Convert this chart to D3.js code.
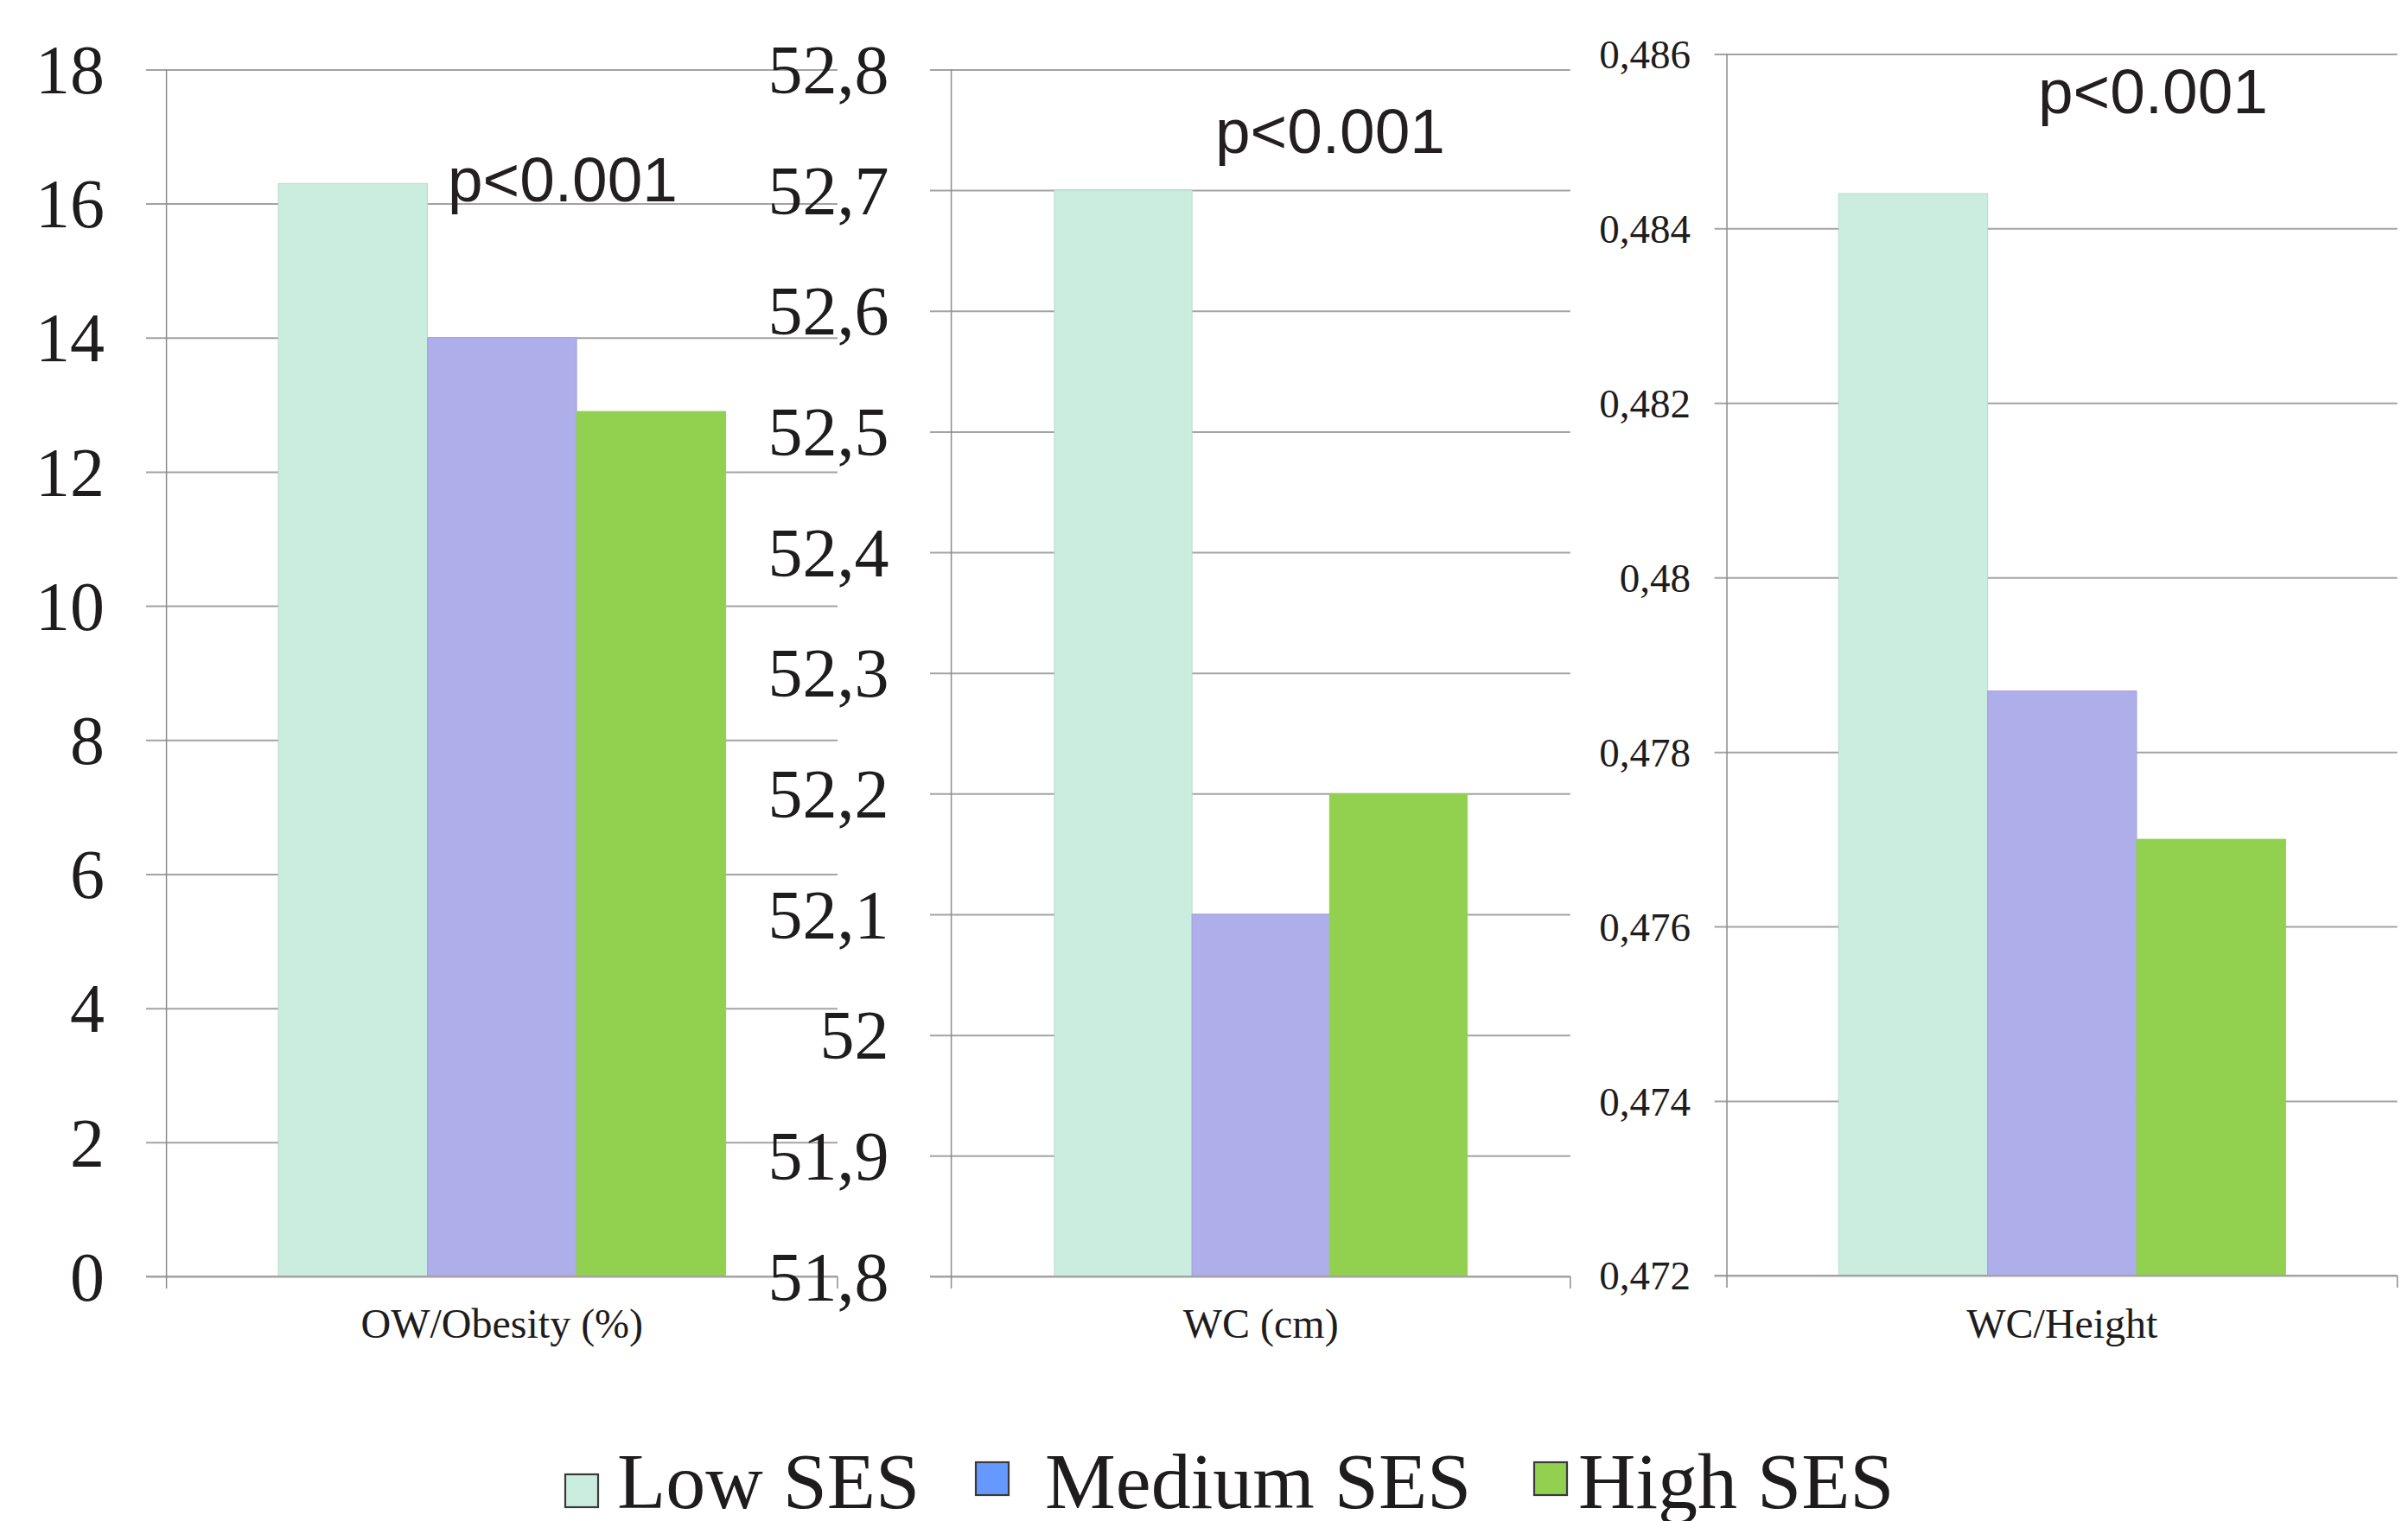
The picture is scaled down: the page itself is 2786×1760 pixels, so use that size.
<!DOCTYPE html>
<html>
<head>
<meta charset="utf-8">
<script src="https://cdn.jsdelivr.net/npm/d3@7"></script>
<style>
  html, body { margin: 0; padding: 0; background: #ffffff; }
  svg { display: block; }
</style>
</head>
<body>
<svg id="chart" width="2786" height="1760"></svg>
<script>
// ---- Data ----
const categories = ["OW/Obesity (%)", "WC (cm)", "WC/Height"];
const seriesNames = ["Low SES", "Medium SES", "High SES"];
const lowSES = [16.3, 52.7, 0.4844];
const mediumSES = [14.0, 52.1, 0.4787];
const highSES = [12.9, 52.2, 0.4770];
const pValueLabels = ["p<0.001", "p<0.001", "p<0.001"];

// Axis domains and tick values for each panel
const domainOW = [0, 18];
const domainWC = [51.8, 52.8];
const domainRatio = [0.472, 0.486];
const ticksOW = [0, 2, 4, 6, 8, 10, 12, 14, 16, 18];
const ticksWC = [51.8, 51.9, 52.0, 52.1, 52.2, 52.3, 52.4, 52.5, 52.6, 52.7, 52.8];
const ticksRatio = [0.472, 0.474, 0.476, 0.478, 0.480, 0.482, 0.484, 0.486];

// ---- Styling ----
const barColors = ["#cbede0", "#aeaeea", "#92d050"];
const barStrokes = ["#b4dccb", "#a3a3de", "#92d050"];
const legendColors = ["#cbede0", "#6699ff", "#92d050"];
const gridColor = "#a3a3a3";
const textColor = "#1e1c1d";
const serif = "'Liberation Serif', 'Times New Roman', serif";
const sans = "'Liberation Sans', Arial, sans-serif";

// Decimal comma formatting, trailing zeros trimmed (52 / 52,1 / 0,48)
const locale = d3.formatLocale({ decimal: ",", thousands: ".", grouping: [3], currency: ["", ""] });

const panelDomains = [domainOW, domainWC, domainRatio];
const panelTicks = [ticksOW, ticksWC, ticksRatio];
const panelFormats = [locale.format("~f"), locale.format(".1~f"), locale.format(".3~f")];

// Panel geometry (plot boxes, label sizes, annotation spots)
const layout = [
  { x0: 192.6, x1: 969.0, yBottom: 1477, yTop: 80.4, tickLen: 23.6, pad: 48, tickFont: 80, pX: 518, pY: 233 },
  { x0: 1100.6, x1: 1816.8, yBottom: 1477, yTop: 80.4, tickLen: 24.6, pad: 47.4, tickFont: 80, pX: 1406, pY: 177 },
  { x0: 1998.0, x1: 2773.6, yBottom: 1476, yTop: 62.4, tickLen: 14.4, pad: 27.6, tickFont: 47, pX: 2358, pY: 131 }
];

const svg = d3.select("#chart");
svg.append("rect").attr("width", 2786).attr("height", 1760).attr("fill", "#ffffff");

const values = categories.map((c, i) => [lowSES[i], mediumSES[i], highSES[i]]);

categories.forEach((cat, i) => {
  const L = layout[i];
  const g = svg.append("g");

  const y = d3.scaleLinear().domain(panelDomains[i]).range([L.yBottom, L.yTop]);
  const x = d3.scaleBand().domain([cat]).range([L.x0, L.x1]).paddingInner(0).paddingOuter(0.25);
  const xs = d3.scaleBand().domain(seriesNames).range([0, x.bandwidth()]).padding(0);

  // Gridlines + tick labels: axis anchored on the right edge, ticks running left past the plot
  const yAxis = d3.axisLeft(y)
    .tickValues(panelTicks[i])
    .tickFormat(panelFormats[i])
    .tickSize(L.x1 - L.x0 + L.tickLen)
    .tickPadding(L.pad);

  const ax = g.append("g")
    .attr("transform", `translate(${L.x1},0)`)
    .call(yAxis);
  ax.select(".domain").remove();
  ax.selectAll(".tick line").attr("stroke", gridColor).attr("stroke-width", 2);
  ax.selectAll(".tick text")
    .attr("fill", textColor)
    .attr("font-family", serif)
    .attr("font-size", L.tickFont)
    .attr("dy", "0.34em");

  // Bars
  g.append("g")
    .selectAll("rect")
    .data(values[i].map((v, k) => ({ key: seriesNames[k], v, k })))
    .join("rect")
    .attr("x", d => x(cat) + xs(d.key))
    .attr("y", d => y(d.v))
    .attr("width", xs.bandwidth())
    .attr("height", d => y(panelDomains[i][0]) - y(d.v))
    .attr("fill", d => barColors[d.k])
    .attr("stroke", d => barStrokes[d.k])
    .attr("stroke-width", 1);

  // Baseline redrawn over bars
  g.append("line")
    .attr("x1", L.x0 - L.tickLen).attr("x2", L.x1)
    .attr("y1", y(panelDomains[i][0])).attr("y2", y(panelDomains[i][0]))
    .attr("stroke", gridColor).attr("stroke-width", 2);

  // Vertical axis line and category boundary ticks
  const r = x.range();
  g.append("line")
    .attr("x1", r[0]).attr("x2", r[0])
    .attr("y1", y(panelDomains[i][1])).attr("y2", y(panelDomains[i][0]) + 14)
    .attr("stroke", "#8c8c8c").attr("stroke-width", 1.5);
  g.append("line")
    .attr("x1", r[1]).attr("x2", r[1])
    .attr("y1", y(panelDomains[i][0])).attr("y2", y(panelDomains[i][0]) + 14)
    .attr("stroke", "#8c8c8c").attr("stroke-width", 1.5);

  // Category label
  g.append("text")
    .attr("x", x(cat) + x.bandwidth() / 2)
    .attr("y", 1548)
    .attr("text-anchor", "middle")
    .attr("fill", textColor)
    .attr("font-family", serif)
    .attr("font-size", 48)
    .text(cat);

  // Significance annotation
  g.append("text")
    .attr("x", L.pX)
    .attr("y", L.pY)
    .attr("fill", "#231f20")
    .attr("font-family", sans)
    .attr("font-size", 73)
    .text(pValueLabels[i]);
});

// ---- Legend ----
const legendItems = [
  { sx: 654, sy: 1706, tx: 714 },
  { sx: 1129, sy: 1692, tx: 1209 },
  { sx: 1775, sy: 1692, tx: 1826 }
];
const legend = svg.append("g");
seriesNames.forEach((name, k) => {
  const it = legendItems[k];
  legend.append("rect")
    .attr("x", it.sx).attr("y", it.sy)
    .attr("width", 38).attr("height", 38)
    .attr("fill", legendColors[k])
    .attr("stroke", "#3a3a3a").attr("stroke-width", 2.2);
  legend.append("text")
    .attr("x", it.tx).attr("y", 1745)
    .attr("fill", textColor)
    .attr("font-family", serif)
    .attr("font-size", 92)
    .text(name);
});
</script>
</body>
</html>
